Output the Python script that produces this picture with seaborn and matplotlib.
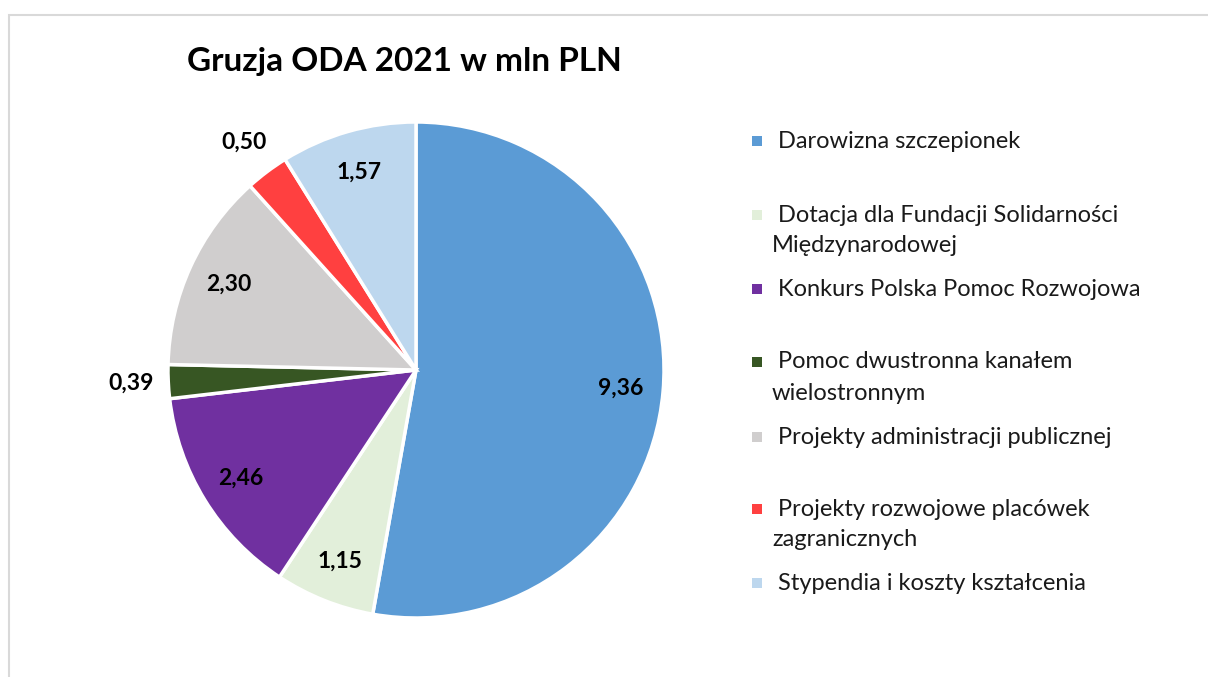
import matplotlib.pyplot as plt
import matplotlib.patches as mpatches
import numpy as np
import seaborn as sns

sns.set_style("white")
plt.rcParams['font.family'] = ['Lato', 'DejaVu Sans']

# ---------------- DATA ----------------
categories = [
    "Darowizna szczepionek",
    "Dotacja dla Fundacji Solidarności\nMiędzynarodowej",
    "Konkurs Polska Pomoc Rozwojowa",
    "Pomoc dwustronna kanałem\nwielostronnym",
    "Projekty administracji publicznej",
    "Projekty rozwojowe placówek\nzagranicznych",
    "Stypendia i koszty kształcenia",
]
values = [9.36, 1.15, 2.46, 0.39, 2.30, 0.50, 1.57]
value_labels = ["9,36", "1,15", "2,46", "0,39", "2,30", "0,50", "1,57"]
colors = sns.color_palette(["#5B9BD5", "#E2EFDA", "#7030A0", "#375623",
                            "#D0CECE", "#FF4040", "#BDD7EE"])

W, H = 1208, 677
fig = plt.figure(figsize=(W / 100, H / 100), dpi=100)

# ---------------- FRAME ----------------
fig.patches.append(mpatches.Rectangle((9 / W, -0.1), 1.2, (H - 15) / H + 0.1,
                                      transform=fig.transFigure, fill=False,
                                      edgecolor="#D9D9D9", linewidth=1.5))

# ---------------- PIE ----------------
cx, cy, r = 416, 370, 248
ax = fig.add_axes([(cx - r) / W, (H - cy - r) / H, 2 * r / W, 2 * r / H])
wedges, _ = ax.pie(values, colors=colors, startangle=90, counterclock=False,
                   wedgeprops=dict(edgecolor="white", linewidth=2.5))
ax.set_xlim(-1, 1)
ax.set_ylim(-1, 1)
ax.set_aspect("equal")

total = sum(values)
for w, v, lab in zip(wedges, values, value_labels):
    ang = np.deg2rad((w.theta1 + w.theta2) / 2)
    dist = 1.15 if v / total < 0.03 else 0.83
    ax.text(dist * np.cos(ang), dist * np.sin(ang), lab, ha="center", va="center",
            fontsize=16.5, fontweight="bold", color="black")

# ---------------- TITLE ----------------
fig.text(404 / W, 1 - 62 / H, "Gruzja ODA 2021 w mln PLN", ha="center", va="center",
         fontsize=24, fontweight="bold", color="black")

# ---------------- LEGEND ----------------
y_first = [141, 215, 289, 362, 437, 509, 583]
for name, col, y in zip(categories, colors, y_first):
    fig.patches.append(mpatches.Rectangle(((757 - 5) / W, 1 - (y + 5) / H), 10 / W, 10 / H,
                                          transform=fig.transFigure, facecolor=col,
                                          edgecolor="none"))
    lines = name.split("\n")
    fig.text(778 / W, 1 - y / H, lines[0], ha="left", va="center", fontsize=17, color="#1a1a1a")
    if len(lines) > 1:
        fig.text(772 / W, 1 - (y + 31) / H, lines[1], ha="left", va="center", fontsize=17,
                 color="#1a1a1a")

fig.savefig("out.png", dpi=100, facecolor="white")
